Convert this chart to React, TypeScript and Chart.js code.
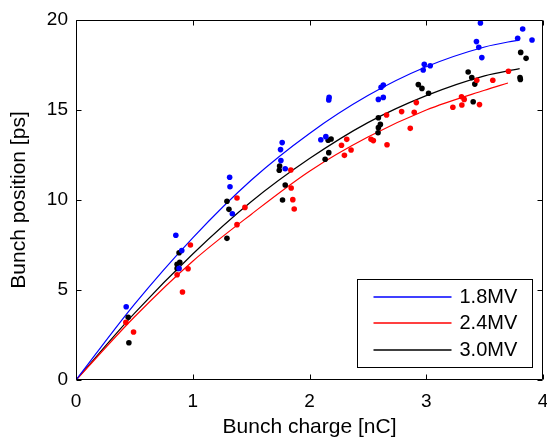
import { useEffect, useRef } from "react";
import { Chart, registerables } from "chart.js";

Chart.register(...registerables);

// ---- axes ----
const xTicks = [0, 1, 2, 3, 4];
const yTicks = [0, 5, 10, 15, 20];
const xTitle = "Bunch charge [nC]";
const yTitle = "Bunch position [ps]";

// ---- series ----
const seriesLabels = ["1.8MV", "2.4MV", "3.0MV"];
const seriesColors = ["#0000ff", "#ff0000", "#000000"];

// measured points, 1.8MV
const blueX = [0.43, 0.855, 0.906, 0.883, 1.316, 1.319, 1.339, 1.766, 1.752, 1.755, 1.792, 2.097, 2.14, 2.168, 2.165, 2.613, 2.632, 2.59, 2.632, 2.983, 3.034, 2.974, 3.464, 3.43, 3.45, 3.476, 3.826, 3.783, 3.906];
const blueY = [4.07, 8.04, 7.19, 6.2, 11.26, 10.74, 9.24, 13.19, 12.8, 12.19, 11.74, 13.35, 13.52, 15.7, 15.56, 16.26, 16.39, 15.59, 15.7, 17.54, 17.46, 17.22, 19.83, 18.8, 18.48, 17.91, 19.5, 18.98, 18.89];

// measured points, 2.4MV
const redX = [0.427, 0.493, 0.98, 0.96, 0.866, 0.912, 1.379, 1.447, 1.379, 1.84, 1.843, 1.857, 1.869, 2.274, 2.319, 2.299, 2.356, 2.527, 2.547, 2.664, 2.66, 2.789, 2.897, 2.915, 2.863, 3.228, 3.302, 3.325, 3.305, 3.433, 3.456, 3.57, 3.704];
const redY = [3.2, 2.67, 7.5, 6.18, 5.85, 4.89, 10.11, 9.59, 8.63, 11.67, 10.67, 10.02, 9.5, 13.04, 13.37, 12.48, 12.78, 13.37, 13.3, 13.07, 14.72, 14.91, 14.87, 15.41, 13.98, 15.15, 15.74, 15.59, 15.28, 16.65, 15.3, 16.65, 17.15];

// measured points, 3.0MV
const blackX = [0.447, 0.453, 0.883, 0.889, 0.866, 0.866, 1.293, 1.31, 1.293, 1.744, 1.741, 1.792, 1.769, 2.16, 2.185, 2.165, 2.134, 2.59, 2.607, 2.59, 2.587, 2.932, 2.963, 3.02, 3.359, 3.39, 3.416, 3.402, 3.809, 3.855, 3.803, 3.806];
const blackY = [3.48, 2.07, 7.07, 6.54, 6.43, 6.2, 9.93, 9.48, 7.87, 11.89, 11.65, 10.83, 10.0, 13.32, 13.39, 12.63, 12.26, 14.57, 14.2, 14.02, 13.74, 16.41, 16.2, 15.93, 17.11, 16.8, 16.44, 15.46, 18.2, 17.87, 16.8, 16.7];

// fitted curves
const blueFitX = [0, 0.5, 1, 1.5, 2, 2.5, 3, 3.5, 3.8];
const blueFitY = [0, 4.2, 7.9, 11.1, 13.7, 15.8, 17.4, 18.5, 18.9];
const redFitX = [0, 0.5, 1, 1.5, 2, 2.5, 3, 3.5, 3.7];
const redFitY = [0, 3.5, 6.6, 9.2, 11.6, 13.5, 15.0, 16.1, 16.5];
const blackFitX = [0, 0.5, 1, 1.5, 2, 2.5, 3, 3.5, 3.8];
const blackFitY = [0, 3.7, 7.0, 9.9, 12.3, 14.3, 15.8, 16.9, 17.3];

const FONT = "'Liberation Sans', Arial, Helvetica, sans-serif";

const zip = (xs: number[], ys: number[]) => xs.map((x, i) => ({ x, y: ys[i] }));

const framePlugin = {
  id: "frameAndLegend",
  afterDatasetsDraw(chart: any) {
    const { ctx, chartArea: a, scales } = chart;
    const xs = scales.x;
    const ys = scales.y;
    ctx.save();
    ctx.strokeStyle = "#000";
    ctx.lineWidth = 1;
    const L = Math.round(a.left) + 0.5;
    const R = Math.round(a.right) - 0.5;
    const T = Math.round(a.top) + 0.5;
    const B = Math.round(a.bottom) - 0.5;
    ctx.beginPath();
    ctx.rect(L, T, R - L, B - T);
    const tl = 5;
    xTicks.forEach((v) => {
      const px = Math.round(xs.getPixelForValue(v)) + 0.5;
      ctx.moveTo(px, B);
      ctx.lineTo(px, B - tl);
      ctx.moveTo(px, T);
      ctx.lineTo(px, T + tl);
    });
    yTicks.forEach((v) => {
      const py = Math.round(ys.getPixelForValue(v)) + 0.5;
      ctx.moveTo(L, py);
      ctx.lineTo(L + tl, py);
      ctx.moveTo(R, py);
      ctx.lineTo(R - tl, py);
    });
    ctx.stroke();

    // legend box
    const bw = 175;
    const bh = 88;
    const bx = Math.round(a.right - 11 - bw) + 0.5;
    const by = Math.round(a.bottom - 13 - bh) + 0.5;
    ctx.fillStyle = "#fff";
    ctx.fillRect(bx, by, bw, bh);
    ctx.strokeStyle = "#000";
    ctx.lineWidth = 1;
    ctx.strokeRect(bx, by, bw, bh);
    const fits = chart.data.datasets.filter((d: any) => d.showLine);
    ctx.font = `20px ${FONT}`;
    ctx.textBaseline = "middle";
    ctx.textAlign = "left";
    fits.forEach((d: any, i: number) => {
      const yy = Math.round(by + 17 + i * 26.8);
      ctx.beginPath();
      ctx.strokeStyle = d.borderColor;
      ctx.lineWidth = 1.5;
      ctx.moveTo(bx + 16, yy);
      ctx.lineTo(bx + 94, yy);
      ctx.stroke();
      ctx.fillStyle = "#000";
      ctx.fillText(d.label, bx + 102, yy);
    });
    ctx.restore();
  },
};

export default function App() {
  const ref = useRef<HTMLCanvasElement | null>(null);

  useEffect(() => {
    if (!ref.current) return;
    const pointSets = [
      zip(blueX, blueY),
      zip(redX, redY),
      zip(blackX, blackY),
    ];
    const fitSets = [
      zip(blueFitX, blueFitY),
      zip(redFitX, redFitY),
      zip(blackFitX, blackFitY),
    ];
    const datasets: any[] = [];
    seriesLabels.forEach((label, i) => {
      datasets.push({
        label: label + " data",
        data: pointSets[i],
        showLine: false,
        pointRadius: 2.8,
        pointBorderWidth: 0,
        pointBackgroundColor: seriesColors[i],
        borderColor: seriesColors[i],
        backgroundColor: seriesColors[i],
      });
    });
    seriesLabels.forEach((label, i) => {
      datasets.push({
        label,
        data: fitSets[i],
        showLine: true,
        pointRadius: 0,
        borderWidth: 1.2,
        borderColor: seriesColors[i],
        backgroundColor: seriesColors[i],
        cubicInterpolationMode: "monotone",
        fill: false,
      });
    });

    const tickFont = { family: FONT, size: 19 };
    const titleFont = { family: FONT, size: 21, lineHeight: 1 };

    const chart = new Chart(ref.current, {
      type: "scatter",
      data: { datasets },
      options: {
        animation: false,
        responsive: false,
        devicePixelRatio: 1,
        layout: { padding: { left: 0, top: 20, right: 3, bottom: 0 } },
        plugins: {
          legend: { display: false },
          tooltip: { enabled: false },
        },
        scales: {
          x: {
            type: "linear",
            min: 0,
            max: 4,
            afterBuildTicks: (s: any) => {
              s.ticks = xTicks.map((v) => ({ value: v }));
            },
            ticks: { color: "#000", font: tickFont, padding: 10, maxRotation: 0 },
            grid: { display: false, drawTicks: false },
            border: { display: false },
            title: {
              display: true,
              text: xTitle,
              color: "#000",
              font: titleFont,
              padding: { top: 0, bottom: 1 },
            },
            afterFit: (s: any) => {
              s.height = 59;
              s.paddingLeft = 0;
              s.paddingRight = 0;
            },
          },
          y: {
            type: "linear",
            min: 0,
            max: 20,
            afterBuildTicks: (s: any) => {
              s.ticks = yTicks.map((v) => ({ value: v }));
            },
            ticks: { color: "#000", font: tickFont, padding: 8 },
            grid: { display: false, drawTicks: false },
            border: { display: false },
            title: {
              display: true,
              text: yTitle,
              color: "#000",
              font: titleFont,
              padding: { top: 8.5, bottom: 0 },
            },
            afterFit: (s: any) => {
              s.width = 76;
              s.paddingTop = 0;
              s.paddingBottom = 0;
            },
          },
        },
      },
      plugins: [framePlugin],
    } as any);
    return () => chart.destroy();
  }, []);

  return (
    <div style={{ position: "fixed", left: 0, top: 0, width: 547, height: 439, background: "#fff" }}>
      <canvas ref={ref} width={547} height={439} style={{ display: "block" }} />
    </div>
  );
}
